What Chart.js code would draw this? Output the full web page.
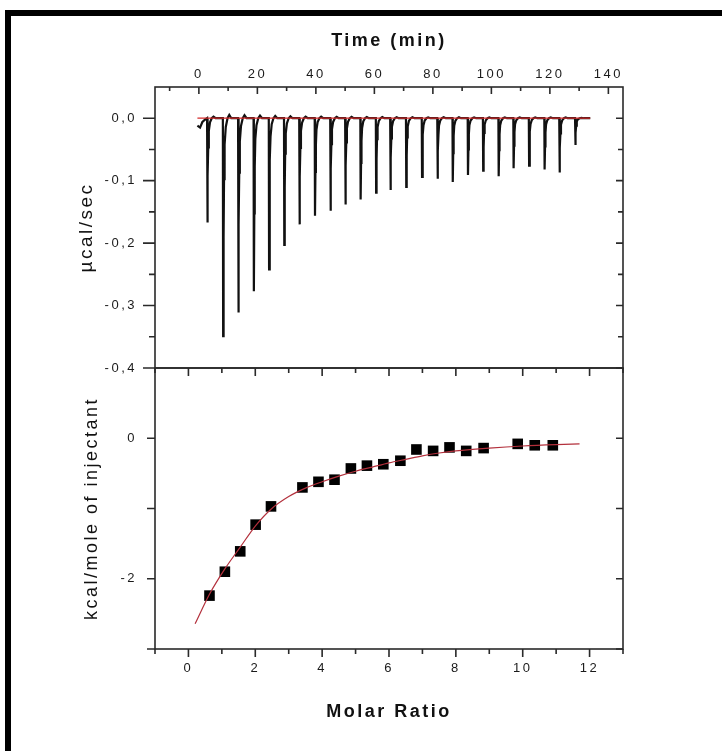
<!DOCTYPE html>
<html>
<head>
<meta charset="utf-8">
<script src="https://cdn.jsdelivr.net/npm/chart.js@4"></script>
<style>
  html, body { margin: 0; padding: 0; background: #fff; overflow: hidden; }
  #page { position: relative; width: 722px; height: 751px; overflow: hidden; background: #fff; }
  #frameTop { position: absolute; left: 5px; top: 10px; width: 717px; height: 6px; background: #000; }
  #frameLeft { position: absolute; left: 5px; top: 10px; width: 6px; height: 741px; background: #000; }
  canvas { position: absolute; left: 0; top: 0; }
</style>
</head>
<body>
<div id="page">
  <div id="frameTop"></div>
  <div id="frameLeft"></div>
  <canvas id="rawChart" width="722" height="751"></canvas>
  <canvas id="fitChart" width="722" height="751"></canvas>
</div>
<script>
// raw heat rate trace: one spike per injection
const injectionTimes = [2.8, 8.2, 13.4, 18.7, 23.9, 29.1, 34.3, 39.6, 44.9, 50.0, 55.2, 60.5, 65.4,
    70.8, 76.2, 81.5, 86.7, 91.9, 97.1, 102.4, 107.5, 112.8, 118.1, 123.2, 128.6];
const peakHeights = [-0.167, -0.349, -0.311, -0.277, -0.242, -0.203, -0.170, -0.156, -0.148, -0.138,
    -0.130, -0.119, -0.115, -0.110, -0.094, -0.097, -0.102, -0.091, -0.084, -0.093, -0.080, -0.076,
    -0.082, -0.087, -0.043];
// shape of one spike: [minutes after injection, fraction of peak]
const spikeProfile = [[0, 0], [0.1, 1], [0.25, 0.55], [0.4, 0.28], [0.6, 0.12], [1.0, 0.04], [1.6, 0], [2.2, -0.015], [2.9, 0]];
const traceStart = [[-0.5, -0.012], [0.4, -0.015], [1.2, -0.006], [2.2, -0.002]];
const traceEnd = 133.8;
const baselineTimes = [-0.5, 133.8];

// integrated heats and fitted curve
const molarRatio = [0.63, 1.09, 1.55, 2.01, 2.47, 3.41, 3.89, 4.37, 4.86, 5.34, 5.83, 6.34, 6.82,
    7.32, 7.81, 8.31, 8.83, 9.85, 10.36, 10.90];
const heats = [-2.24, -1.90, -1.61, -1.23, -0.97, -0.70, -0.62, -0.59, -0.43, -0.39, -0.37, -0.32,
    -0.16, -0.18, -0.13, -0.18, -0.14, -0.08, -0.10, -0.10];
const fitRatio = [0.2, 0.63, 1.09, 1.55, 2.0, 2.47, 3.0, 3.5, 4.0, 4.5, 5.0, 5.5, 6.0, 6.5, 7.0,
    7.5, 8.0, 9.0, 10.0, 11.0, 11.7];
const fitHeats = [-2.64, -2.22, -1.86, -1.55, -1.25, -1.01, -0.83, -0.71, -0.62, -0.54, -0.47, -0.41,
    -0.35, -0.30, -0.25, -0.21, -0.18, -0.14, -0.11, -0.09, -0.08];

// axis ticks
const timeTicks = [0, 20, 40, 60, 80, 100, 120, 140];
const timeMinor = [-10, 10, 30, 50, 70, 90, 110, 130];
const rateTicks = [0, -0.1, -0.2, -0.3, -0.4];
const rateLabels = ['0,0', '-0,1', '-0,2', '-0,3', '-0,4'];
const rateMinor = [-0.05, -0.15, -0.25, -0.35];
const ratioTicks = [0, 2, 4, 6, 8, 10, 12];
const ratioMinor = [-1, 1, 3, 5, 7, 9, 11, 13];
const heatTicks = [0, -2];
const heatMinor = [-1, -3];

Chart.defaults.font.family = '"Liberation Sans", Arial, sans-serif';
Chart.defaults.color = '#1a1a1a';

// Origin-like frame: box round the plot and tick marks on every side
const frameTicks = {
    id: 'frameTicks',
    beforeLayout(chart) { chart.ctx.letterSpacing = '2.5px'; },
    beforeDraw(chart) { chart.ctx.letterSpacing = '2.5px'; },
    afterDraw(chart, args, opts) {
        const ctx = chart.ctx;
        const a = chart.chartArea;
        ctx.save();
        ctx.strokeStyle = '#2a2a2a';
        ctx.lineWidth = 1.6;
        ctx.strokeRect(a.left, a.top, a.right - a.left, a.bottom - a.top);
        ctx.beginPath();
        opts.marks.forEach(m => {
            const s = chart.scales[m.scale];
            m.values.forEach(v => {
                const p = s.getPixelForValue(v);
                if (m.edge === 'top') { ctx.moveTo(p, a.top); ctx.lineTo(p, a.top + m.len); }
                if (m.edge === 'bottom') { ctx.moveTo(p, a.bottom); ctx.lineTo(p, a.bottom - m.len); }
                if (m.edge === 'left') { ctx.moveTo(a.left, p); ctx.lineTo(a.left + m.len, p); }
                if (m.edge === 'right') { ctx.moveTo(a.right, p); ctx.lineTo(a.right - m.len, p); }
            });
        });
        ctx.stroke();
        ctx.restore();
    }
};

const tracePoints = traceStart.map(([x, y]) => ({ x, y }));
injectionTimes.forEach((t, i) => {
    spikeProfile.forEach(([dt, f]) => tracePoints.push({ x: t + dt, y: peakHeights[i] * f }));
});
tracePoints.push({ x: traceEnd, y: 0 });

new Chart(document.getElementById('rawChart'), {
    type: 'scatter',
    data: {
        datasets: [{
            data: baselineTimes.map(t => ({ x: t, y: 0 })),
            showLine: true,
            borderColor: '#d42a2a',
            borderWidth: 1.3,
            pointRadius: 0
        }, {
            data: tracePoints,
            showLine: true,
            borderColor: '#111',
            borderWidth: 2.2,
            pointRadius: 0
        }]
    },
    options: {
        responsive: false,
        animation: false,
        devicePixelRatio: 1,
        layout: { padding: { top: 0, left: 0, right: 99, bottom: 383 } },
        plugins: {
            legend: { display: false },
            tooltip: { enabled: false },
            frameTicks: {
                marks: [
                    { scale: 'x', edge: 'top', values: timeTicks, len: 7 },
                    { scale: 'x', edge: 'top', values: timeMinor, len: 4 },
                    { scale: 'y', edge: 'left', values: rateTicks, len: -12 },
                    { scale: 'y', edge: 'left', values: rateMinor, len: -6 },
                    { scale: 'y', edge: 'right', values: rateTicks, len: 7 },
                    { scale: 'y', edge: 'right', values: rateMinor, len: 5 }
                ]
            }
        },
        scales: {
            x: {
                type: 'linear',
                position: 'top',
                min: -15,
                max: 145,
                afterBuildTicks: s => { s.ticks = timeTicks.map(v => ({ value: v })); },
                afterFit: s => { s.height = 87; },
                grid: { display: false, drawTicks: false },
                border: { display: false },
                ticks: { padding: 5, autoSkip: false, maxRotation: 0, font: { size: 13 } },
                title: {
                    display: true,
                    text: 'Time (min)',
                    color: '#111',
                    font: { size: 18, weight: 'bold' },
                    padding: { top: 30, bottom: 0 }
                }
            },
            y: {
                type: 'linear',
                min: -0.4,
                max: 0.05,
                afterBuildTicks: s => { s.ticks = rateTicks.map(v => ({ value: v })); },
                afterFit: s => { s.width = 155; },
                grid: { display: false, drawTicks: false },
                border: { display: false },
                ticks: { padding: 18, autoSkip: false, font: { size: 13 }, callback: (v, i) => rateLabels[i] },
                title: {
                    display: true,
                    text: 'µcal/sec',
                    color: '#111',
                    font: { size: 19 },
                    padding: { top: 75, bottom: 0 }
                }
            }
        }
    },
    plugins: [frameTicks]
});

new Chart(document.getElementById('fitChart'), {
    type: 'scatter',
    data: {
        datasets: [{
            data: fitRatio.map((x, i) => ({ x, y: fitHeats[i] })),
            showLine: true,
            cubicInterpolationMode: 'monotone',
            borderColor: '#b3303c',
            borderWidth: 1.2,
            pointRadius: 0
        }, {
            data: molarRatio.map((x, i) => ({ x, y: heats[i] })),
            pointStyle: 'rect',
            pointRadius: 7.5,
            backgroundColor: '#000',
            borderWidth: 0
        }]
    },
    options: {
        responsive: false,
        animation: false,
        devicePixelRatio: 1,
        layout: { padding: { top: 368, left: 0, right: 99, bottom: 0 } },
        plugins: {
            legend: { display: false },
            tooltip: { enabled: false },
            frameTicks: {
                marks: [
                    { scale: 'x', edge: 'bottom', values: ratioTicks, len: -8 },
                    { scale: 'x', edge: 'bottom', values: ratioMinor, len: -5 },
                    { scale: 'x', edge: 'top', values: ratioTicks, len: 8 },
                    { scale: 'x', edge: 'top', values: ratioMinor, len: 5 },
                    { scale: 'y', edge: 'left', values: heatTicks, len: -8 },
                    { scale: 'y', edge: 'left', values: heatMinor, len: -8 },
                    { scale: 'y', edge: 'right', values: heatTicks, len: 7 },
                    { scale: 'y', edge: 'right', values: heatMinor, len: 7 }
                ]
            }
        },
        scales: {
            x: {
                type: 'linear',
                position: 'bottom',
                min: -1,
                max: 13,
                afterBuildTicks: s => { s.ticks = ratioTicks.map(v => ({ value: v })); },
                afterFit: s => { s.height = 102; },
                grid: { display: false, drawTicks: false },
                border: { display: false },
                ticks: { padding: 12, autoSkip: false, maxRotation: 0, font: { size: 13 } },
                title: {
                    display: true,
                    text: 'Molar Ratio',
                    color: '#111',
                    font: { size: 18, weight: 'bold' },
                    padding: { top: 0, bottom: 28 }
                }
            },
            y: {
                type: 'linear',
                min: -3,
                max: 1,
                afterBuildTicks: s => { s.ticks = heatTicks.map(v => ({ value: v })); },
                afterFit: s => { s.width = 155; },
                grid: { display: false, drawTicks: false },
                border: { display: false },
                ticks: { padding: 18, autoSkip: false, font: { size: 13 } },
                title: {
                    display: true,
                    text: 'kcal/mole of injectant',
                    color: '#111',
                    font: { size: 18 },
                    padding: { top: 81, bottom: 0 }
                }
            }
        }
    },
    plugins: [frameTicks]
});
</script>
</body>
</html>
